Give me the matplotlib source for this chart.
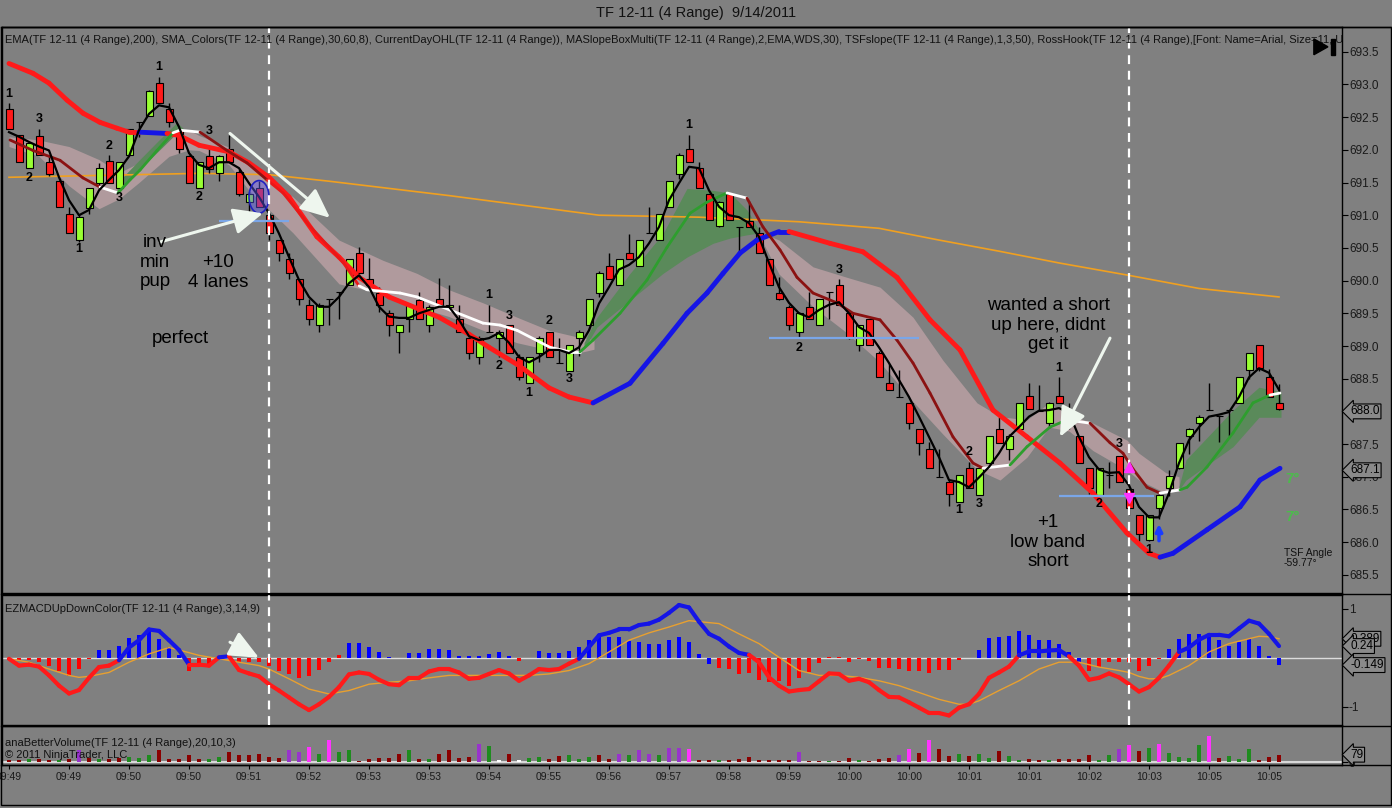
import numpy as np
import matplotlib
matplotlib.use('Agg')
import matplotlib.pyplot as plt
import matplotlib.transforms as mtrans
from matplotlib.collections import LineCollection
from matplotlib.patches import Ellipse, Rectangle, Polygon
from matplotlib.lines import Line2D

plt.rcParams['font.family'] = ['Liberation Sans', 'DejaVu Sans']

# ---- range bars (TF 12-11, 4 range) ----
opens = [692.62,692.22,691.72,692.21,691.81,691.52,691.02,690.62,691.11,691.50,
         691.83,691.41,691.92,692.42,692.52,693.02,692.62,692.30,691.90,691.41,
         691.90,691.64,692.02,691.66,691.20,691.42,691.00,690.62,690.33,690.02,
         689.63,689.32,689.72,689.82,689.93,690.42,690.02,689.81,689.50,689.22,
         689.42,689.70,689.32,689.72,689.60,689.42,689.12,688.83,689.22,689.12,
         689.32,688.83,688.43,688.90,689.22,688.74,688.62,689.12,689.32,689.81,
         690.22,689.93,690.42,690.22,690.73,690.62,691.12,691.63,692.02,691.72,
         691.32,690.83,691.32,690.82,690.91,690.73,690.33,689.81,689.60,689.22,
         689.60,689.32,689.82,689.93,689.50,689.02,689.42,688.90,688.43,688.22,
         688.13,687.73,687.42,687.00,686.92,686.62,687.13,686.72,687.21,687.73,
         687.42,687.73,688.23,688.00,687.82,688.23,688.03,687.62,687.13,686.72,
         687.03,687.32,686.82,686.42,686.03,686.52,686.83,687.13,687.62,687.82,
         688.02,687.93,688.02,688.13,688.63,689.02,688.52,688.13]
closes = [692.32,691.81,692.10,691.92,691.63,691.12,690.73,690.97,691.42,691.72,
          691.50,691.81,692.32,692.42,692.90,692.72,692.42,692.02,691.50,691.81,
          691.70,691.90,691.81,691.32,691.32,691.12,690.73,690.42,690.12,689.72,
          689.42,689.63,689.72,689.82,690.33,690.12,689.93,689.63,689.32,689.32,
          689.63,689.42,689.60,689.63,689.62,689.22,688.90,689.12,689.22,689.22,
          688.90,688.52,688.83,689.12,688.83,688.74,689.02,689.22,689.72,690.12,
          690.02,690.33,690.33,690.62,690.73,691.02,691.52,691.92,691.81,691.42,
          690.93,691.20,690.93,690.82,690.82,690.42,689.93,689.72,689.32,689.50,
          689.42,689.72,689.82,689.63,689.12,689.32,689.02,688.52,688.33,688.22,
          687.82,687.52,687.13,687.00,686.73,687.03,686.83,687.13,687.62,687.52,
          687.62,688.13,688.03,688.00,688.13,688.13,687.82,687.21,686.83,687.13,
          687.03,686.92,686.52,686.12,686.42,686.72,687.01,687.52,687.73,687.92,
          688.02,687.93,688.02,688.52,688.90,688.66,688.22,688.03]
highs = [692.72,692.22,692.12,692.32,691.90,691.52,691.12,691.02,691.42,691.80,
         691.92,691.81,692.32,692.42,692.92,693.12,692.72,692.32,691.92,691.81,
         692.05,691.92,692.22,691.70,691.35,691.52,691.02,690.62,690.42,690.02,
         689.72,689.65,689.72,689.82,690.33,690.51,690.35,689.90,689.55,689.32,
         689.65,689.82,689.62,690.04,689.93,689.62,689.15,689.15,689.62,689.25,
         689.32,688.88,688.83,689.15,689.22,689.12,689.02,689.25,689.72,690.15,
         690.42,690.33,690.72,690.62,691.12,691.02,691.52,691.95,692.22,691.82,
         691.32,691.22,691.32,690.82,691.22,690.82,690.33,690.05,689.62,689.52,
         689.82,689.72,689.82,690.02,689.50,689.32,689.42,688.92,688.73,688.63,
         688.13,687.73,687.53,687.42,686.95,687.03,687.23,687.13,687.62,687.92,
         687.65,688.13,688.43,688.40,688.15,688.53,688.13,687.62,687.13,687.13,
         687.23,687.32,686.82,686.42,686.42,686.75,687.10,687.52,687.75,687.95,
         688.43,687.93,688.02,688.52,688.90,689.02,688.65,688.42]
lows = [692.32,691.81,691.72,691.92,691.60,691.12,690.73,690.59,691.02,691.40,
        691.50,691.41,691.92,692.20,692.52,692.72,692.35,691.95,691.50,691.41,
        691.65,691.52,691.81,691.30,691.05,691.12,690.62,690.30,690.02,689.62,
        689.32,689.22,689.32,689.42,689.93,690.10,689.93,689.52,689.15,688.90,
        689.22,689.42,689.22,689.63,689.55,689.22,688.80,688.72,689.22,688.83,
        688.90,688.48,688.43,688.75,688.83,688.74,688.62,688.85,689.32,689.75,
        690.02,689.93,690.33,690.22,690.73,690.62,691.12,691.55,691.81,691.42,
        690.93,690.82,690.93,690.42,690.82,690.42,689.93,689.70,689.25,689.12,
        689.42,689.32,689.42,689.62,689.10,688.92,689.02,688.52,688.33,688.22,
        687.73,687.33,687.13,687.00,686.55,686.62,686.83,686.72,687.21,687.52,
        687.25,687.73,688.03,688.00,687.75,688.13,687.73,687.21,686.73,686.72,
        686.83,686.92,686.42,686.02,686.02,686.35,686.70,687.12,687.35,687.55,
        688.02,687.53,687.63,688.13,688.50,688.62,688.22,688.02]

# fast black line following price
fast_line = [692.27,692.20,692.12,692.05,691.99,691.58,691.23,691.00,691.08,691.38,
             691.54,691.69,691.90,692.30,692.55,692.68,692.65,692.35,691.95,691.77,
             691.72,691.81,691.81,691.72,691.49,691.28,691.03,690.72,690.36,690.01,
             689.75,689.60,689.60,689.75,689.96,690.08,689.90,689.60,689.45,689.43,
             689.43,689.50,689.55,689.60,689.60,689.40,689.15,689.09,689.12,689.20,
             689.05,688.83,688.75,688.83,688.94,688.94,688.89,688.98,689.24,689.65,
             689.90,690.17,690.24,690.36,690.57,690.82,691.23,691.49,691.74,691.72,
             691.38,691.13,691.00,690.97,690.88,690.67,690.27,689.90,689.66,689.50,
             689.44,689.55,689.63,689.67,689.50,689.29,689.20,688.98,688.74,688.48,
             688.22,687.92,687.61,687.30,686.95,686.92,686.84,686.99,687.15,687.36,
             687.61,687.76,687.92,688.01,688.02,688.05,687.98,687.61,687.30,687.11,
             687.06,687.07,686.87,686.54,686.38,686.38,686.75,687.21,687.56,687.76,
             687.92,687.95,687.99,688.22,688.52,688.66,688.59,688.33]

# EMA 200 (orange)
ema_x = [0, 19, 26, 32, 44, 59, 69, 79, 87, 93, 99, 105, 112, 119, 127]
ema_p = [691.58, 691.64, 691.62, 691.52, 691.30, 691.00, 690.97, 690.90, 690.80,
         690.62, 690.45, 690.27, 690.08, 689.88, 689.75]

# thick band line (red falling / blue rising)
band_x = [0, 2.4, 4, 5.8, 7.4, 9.1, 10.8, 12, 13, 15.8, 17, 19, 22, 24, 26, 28, 30.8,
          33, 35, 38, 43, 46, 48, 51, 54, 56, 58.4, 62.1, 65.4, 67.8, 69.8, 71.4, 73.1,
          74.8, 77, 78, 82.1, 85.4, 88.8, 92.1, 95.1, 98.4, 101.8, 105.1, 108.4, 111.8,
          114, 115.1, 116.4, 119.8, 123.1, 125.1, 127.1]
band_p = [693.32, 693.17, 693.02, 692.76, 692.56, 692.42, 692.33, 692.27, 692.27, 692.25,
          692.22, 692.07, 691.97, 691.80, 691.58, 691.28, 690.67, 690.36, 690.05, 689.75,
          689.44, 689.18, 688.98, 688.70, 688.36, 688.22, 688.13, 688.43, 689.04, 689.50,
          689.81, 690.11, 690.42, 690.62, 690.75, 690.75, 690.57, 690.44, 690.05, 689.40,
          688.94, 688.02, 687.61, 687.21, 686.75, 686.14, 685.83, 685.77, 685.83, 686.19,
          686.54, 686.95, 687.13]
band_c = "r" * 8 + "b" + "r" * 17 + "b" * 9 + "r" * 12 + "b" * 5

# SMA_Colors line (m = maroon, w = white, g = green, r = red)
sma_x = [0.1, 2.4, 5.1, 7.4, 9.1, 10.9, 12.1, 13.1, 14.8, 16.4, 17.1, 19.1, 21.8, 23.8,
         25.8, 27.4, 30.0, 33.4, 35.0, 35.8, 39.1, 40.8, 44.1, 47.4, 49.1, 50.8, 54.1,
         56.1, 57.1, 58.4, 61.1, 63.8, 65.8, 68.1, 69.8, 71.8, 73.8, 75.4, 77.1, 78.8,
         80.4, 82.8, 84.4, 87.1, 88.8, 90.4, 92.1, 94.4, 96.4, 97.4, 100.1, 101.8, 104.1,
         105.8, 108.1, 110.1, 111.4, 112.4, 113.8, 115.1, 117.1, 117.8, 119.8, 122.4,
         124.4, 126.1, 127.1]
sma_p = [692.15, 691.99, 691.84, 691.57, 691.43, 691.34, 691.54, 691.69, 691.99, 692.26,
         692.30, 692.27, 691.99, 691.80, 691.54, 691.34, 690.85, 690.28, 689.92, 689.86,
         689.81, 689.75, 689.55, 689.35, 689.32, 689.24, 688.98, 688.91, 688.91, 689.09,
         689.50, 690.01, 690.51, 691.03, 691.20, 691.34, 691.26, 690.82, 690.47, 690.05,
         689.81, 689.66, 689.50, 689.40, 689.09, 688.74, 688.28, 687.61, 687.21, 687.13,
         687.18, 687.46, 687.76, 687.87, 687.82, 687.52, 687.36, 687.12, 686.84, 686.75,
         686.80, 686.84, 687.15, 687.67, 688.13, 688.25, 688.28]
sma_c = "mmmmwggggwwmmmrrrrwwwwwwwwwwgggggggwmmmmmmmmmmmmmwgggwmmmmmwgggggw"

# shaded bands (pink = falling, green = rising)
pink1_x = [0, 3, 6, 9, 11, 13, 16, 18, 19, 22, 24, 28.4, 33, 37.4, 40.8, 44, 47.4, 50.8, 54, 56.8, 58.5]
pink1_hi = [692.20, 692.15, 692.05, 691.85, 691.65, 691.80, 692.20, 692.30, 692.22, 692.04, 691.80,
            691.28, 690.62, 690.31, 690.11, 689.86, 689.66, 689.44, 689.24, 689.14, 689.10]
pink1_lo = [692.05, 691.90, 691.45, 691.10, 691.25, 691.50, 691.90, 692.00, 691.99, 691.77, 691.38,
            690.73, 689.95, 689.80, 689.60, 689.45, 689.24, 689.05, 688.94, 688.89, 688.95]
green1_x = [10.8, 13, 15, 16.8, 17.6]
green1_hi = [691.49, 691.84, 692.15, 692.42, 692.30]
green1_lo = [691.35, 691.69, 691.99, 692.26, 692.30]
green2_x = [57.5, 58.8, 62.1, 65.4, 67.8, 70.4, 72.1, 73.8, 75.1]
green2_hi = [689.05, 689.44, 690.11, 690.72, 691.41, 691.38, 691.34, 691.08, 690.75]
green2_lo = [688.95, 689.29, 689.70, 690.11, 690.36, 690.57, 690.65, 690.70, 690.73]
pink2_x = [75, 77, 80.4, 83.8, 87.1, 90.4, 93.4, 96.8, 99.1, 101.8, 104, 106, 108.4, 111.8, 113, 115.7, 117]
pink2_hi = [690.75, 690.62, 690.21, 690.05, 689.90, 689.44, 688.78, 688.13, 687.92, 687.87, 688.13,
            687.95, 687.82, 687.56, 687.36, 687.06, 687.00]
pink2_lo = [690.70, 690.10, 689.60, 689.20, 688.75, 688.15, 687.65, 687.11, 686.95, 687.30, 687.76,
            687.70, 687.40, 687.10, 686.95, 686.75, 686.80]
green3_x = [117, 117.7, 122.4, 125, 127.2]
green3_hi = [686.85, 687.26, 688.02, 688.37, 688.30]
green3_lo = [686.80, 686.95, 687.46, 687.91, 687.91]

# swing labels (RossHook)
swing_x = [0, 3, 2, 7, 10, 11, 15, 20, 19, 48, 50, 54, 49, 52, 56, 68, 83, 79, 96, 95, 97, 105, 111, 109, 114]
swing_p = [692.86, 692.47, 691.57, 690.48, 692.06, 691.26, 693.27, 692.29, 691.28, 689.78, 689.46,
           689.38, 688.69, 688.28, 688.50, 692.38, 690.16, 688.97, 687.38, 686.49, 686.58, 688.66,
           687.50, 686.58, 685.88]
swing_t = ['1', '3', '2', '1', '2', '3', '1', '3', '2', '1', '3', '2', '2', '1', '3', '1', '3', '2',
           '2', '1', '3', '1', '3', '2', '1']

# ---- EZMACD ----
macd_hist = [-0.05,-0.05,-0.05,-0.09,-0.16,-0.26,-0.38,-0.23,-0.02,0.16,
             0.16,0.25,0.41,0.47,0.56,0.39,0.22,0.05,-0.26,-0.16,
             -0.14,0.03,0.05,-0.09,-0.09,-0.09,-0.16,-0.26,-0.33,-0.41,
             -0.38,-0.25,-0.09,0.06,0.30,0.30,0.23,0.11,0.01,-0.01,
             0.10,0.10,0.17,0.17,0.15,0.03,0.03,0.03,0.08,0.12,
             0.04,-0.07,-0.01,0.14,0.10,0.10,0.14,0.22,0.37,0.43,
             0.43,0.43,0.34,0.32,0.29,0.29,0.36,0.43,0.32,0.07,
             -0.12,-0.20,-0.22,-0.33,-0.32,-0.45,-0.50,-0.47,-0.57,-0.41,
             -0.30,-0.11,0.01,0.01,-0.09,-0.02,-0.07,-0.20,-0.20,-0.22,
             -0.26,-0.27,-0.32,-0.25,-0.25,-0.04,-0.01,0.16,0.41,0.43,
             0.44,0.54,0.47,0.37,0.36,0.29,0.12,-0.08,-0.26,-0.18,
             -0.09,-0.09,-0.09,-0.28,-0.16,-0.02,0.19,0.39,0.49,0.49,
             0.49,0.36,0.25,0.32,0.39,0.25,0.03,-0.149]
hist_c = ("r" * 9 + "b" * 9 + "r" * 3 + "b" * 2 + "r" * 11 + "b" * 5 + "r" + "b" * 11
          + "r" * 2 + "b" * 18 + "r" * 26 + "b" * 11 + "r" * 8 + "b" * 12)
macd_line = [-0.02,-0.16,-0.14,-0.18,-0.36,-0.57,-0.73,-0.66,-0.41,-0.19,
             -0.16,-0.05,0.21,0.36,0.58,0.55,0.36,0.16,-0.14,-0.14,
             -0.16,0.01,0.03,-0.25,-0.32,-0.38,-0.54,-0.67,-0.81,-0.95,
             -1.07,-0.95,-0.80,-0.60,-0.34,-0.30,-0.33,-0.45,-0.54,-0.56,
             -0.41,-0.41,-0.28,-0.23,-0.23,-0.30,-0.43,-0.41,-0.33,-0.25,
             -0.32,-0.47,-0.36,-0.23,-0.25,-0.23,-0.12,-0.02,0.22,0.46,
             0.51,0.58,0.58,0.67,0.70,0.78,0.92,1.08,1.03,0.74,
             0.49,0.39,0.23,0.10,0.06,-0.09,-0.40,-0.57,-0.69,-0.66,
             -0.64,-0.48,-0.32,-0.33,-0.47,-0.43,-0.50,-0.66,-0.80,-0.81,
             -0.91,-1.02,-1.13,-1.13,-1.18,-1.02,-0.95,-0.74,-0.41,-0.30,
             -0.18,0.05,0.13,0.13,0.15,0.16,0.03,-0.16,-0.45,-0.41,
             -0.32,-0.40,-0.54,-0.69,-0.60,-0.41,-0.16,0.12,0.21,0.37,
             0.47,0.47,0.44,0.60,0.76,0.70,0.49,0.24]
sig_x = [0,2,4,6,7,8,10,12,14,16,17,19,21,23,25,26,28,30,32,34,36,38,40,42,44,46,48,50,52,54,
         56,58,60,62,64,66,68,71,73,75,77,79,81,83,85,87,89,91,93,95,96,97,99,101,103,105,107,
         109,111,112,113,114,115,116,118,120,122,124,125,126,127]
sig_v = [-0.02,-0.09,-0.23,-0.36,-0.40,-0.38,-0.30,-0.09,0.08,0.21,0.16,0.05,-0.02,-0.09,-0.16,
         -0.23,-0.43,-0.64,-0.74,-0.67,-0.54,-0.50,-0.47,-0.41,-0.36,-0.36,-0.36,-0.36,-0.36,-0.33,
         -0.26,-0.12,0.12,0.36,0.51,0.63,0.76,0.70,0.49,0.29,0.01,-0.26,-0.36,-0.36,-0.40,-0.47,
         -0.57,-0.71,-0.85,-0.95,-0.95,-0.88,-0.67,-0.47,-0.23,-0.09,-0.09,-0.19,-0.26,-0.30,-0.38,
         -0.43,-0.43,-0.36,-0.16,0.12,0.29,0.39,0.44,0.43,0.39]

# ---- anaBetterVolume ----
volume = [25,18,29,36,25,18,29,126,40,29,
          36,47,54,47,72,126,29,29,72,29,
          29,54,108,72,72,90,54,47,126,108,
          162,90,241,108,133,7,36,43,43,90,
          133,29,36,90,126,47,54,198,169,18,
          90,18,43,54,36,65,79,36,54,72,
          29,90,72,126,90,79,151,155,144,18,
          18,18,25,29,54,18,18,18,18,104,
          7,7,7,7,47,18,7,29,47,79,
          137,101,241,144,65,90,65,86,47,115,
          61,25,32,25,18,36,29,36,79,18,
          79,137,187,115,155,198,101,54,47,180,
          277,47,68,29,137,18,50,79]
vol_c = ("rrgrrgr" "p" "rgrr" "ggg" "rrrrr" "gg" "rrrrrr" "pp" "m" "g" "m" "gg" "rrrrr" "g" "r"
         "g" "rrrr" "p" "g" "w" "r" "w" "gg" "rr" "ggg" "rr" "p" "g" "pp" "g" "pp" "m" "rr" "g"
         "rrrrrrr" "p" "rr" "g" "rr" "g" "rrr" "p" "m" "r" "m" "rr" "g" "r" "gg" "r" "gg" "rr" "g"
         "rrrr" "gg" "p" "m" "r" "g" "m" "gggg" "m" "r" "ggg" "rrr")

time_labels = ["09:49", "09:49", "09:50", "09:50", "09:51", "09:52", "09:53", "09:53", "09:54",
               "09:55", "09:56", "09:57", "09:58", "09:59", "10:00", "10:00", "10:01", "10:01",
               "10:02", "10:03", "10:05", "10:05"]

GREY = '#808080'
W, H = 1392, 808
fig = plt.figure(figsize=(W / 100, H / 100), dpi=100, facecolor=GREY)


def box(top, bot, left=2, right=1342):
    return [left / W, 1 - bot / H, (right - left) / W, (bot - top) / H]


ax = fig.add_axes(box(27, 593))
axm = fig.add_axes(box(595, 725))
axv = fig.add_axes(box(726, 765))
XL = (-0.7, 133.3)
for a in (ax, axm, axv):
    a.set_facecolor(GREY)
    a.set_xlim(*XL)
    for s in a.spines.values():
        s.set_color('black')
        s.set_linewidth(1)
    a.yaxis.tick_right()
    a.tick_params(axis='y', direction='out', length=4, labelsize=8.5, pad=1,
                  colors='black', labelcolor='#1a1a1a')
ax.tick_params(axis='x', bottom=False, labelbottom=False)
axm.tick_params(axis='x', bottom=False, labelbottom=False)

ax.set_ylim(685.223, 693.878)
axm.set_ylim(-1.375, 1.285)
axv.set_ylim(-32, 388)


def seg_line(a, xs, ys, codes, cmap, lw, z):
    pts = np.column_stack([xs, ys])
    segs = np.stack([pts[:-1], pts[1:]], axis=1)
    lc = LineCollection(segs, colors=[cmap[k] for k in codes], linewidths=lw,
                        zorder=z, capstyle='round', joinstyle='round')
    a.add_collection(lc)


# ---------------- main price panel ----------------
PINK = '#b09a9d'
GREENB = '#5a8a5a'
for bx, bh, bl, col in [(pink1_x, pink1_hi, pink1_lo, PINK), (green1_x, green1_hi, green1_lo, GREENB),
                        (green2_x, green2_hi, green2_lo, GREENB), (pink2_x, pink2_hi, pink2_lo, PINK),
                        (green3_x, green3_hi, green3_lo, GREENB)]:
    ax.fill_between(bx, bl, bh, color=col, lw=0, zorder=1)

ax.plot(ema_x, ema_p, color='#f0a020', lw=1.2, zorder=2)

xb = np.arange(len(opens))
o = np.array(opens)
c = np.array(closes)
ax.vlines(xb, lows, highs, color='black', lw=1, zorder=3)
body = np.where(c >= o, '#99ff33', '#ff1a1a')
ax.bar(xb, c - o, bottom=o, width=0.7, color=body, edgecolor='black', linewidth=0.8, zorder=3.5)

seg_line(ax, band_x, band_p, band_c, {'r': '#ff1a1a', 'b': '#1515e6'}, 3.5, 4)
seg_line(ax, sma_x, sma_p, sma_c, {'m': '#8b1212', 'w': '#ffffff', 'g': '#2e9e2e', 'r': '#e81818'}, 2, 4.2)
ax.plot(xb, fast_line, color='black', lw=1.6, zorder=4.5)

ax.hlines([690.91, 689.12, 686.70], [21, 76, 105], [28, 91, 114.5], color='#7aa6e8', lw=1.6, zorder=4.6)

ax.add_patch(Ellipse((25, 691.28), 2.0, 0.5, fc=(0.35, 0.35, 0.95, 0.45), ec='#2020c0', lw=1.2, zorder=5))

for a in (ax, axm):
    for bx in (26, 112):
        a.axvline(bx, color='white', lw=1.6, ls=(0, (4, 3)), zorder=6)

arrow = dict(arrowstyle='-|>,head_length=0.9,head_width=0.4', color='#eef6ee', lw=2.2,
             mutation_scale=20, shrinkA=0, shrinkB=0)
ax.annotate('', xy=(32.1, 690.96), xytext=(22.1, 692.25), arrowprops=arrow, zorder=7)
ax.annotate('', xy=(25.4, 691.03), xytext=(15.1, 690.59), arrowprops=arrow, zorder=7)
ax.annotate('', xy=(105.1, 687.61), xytext=(110.1, 689.12), arrowprops=arrow, zorder=7)
axm.annotate('', xy=(25, 0.0), xytext=(22.1, 0.32), arrowprops=arrow, zorder=7)

ax.plot([112], [687.15], marker='^', color='#ff33ff', ms=7, zorder=7)
ax.plot([112], [686.68], marker='v', color='#ff33ff', ms=7, zorder=7)
ax.annotate('', xy=(115, 686.32), xytext=(115, 685.98),
            arrowprops=dict(arrowstyle='-|>', color='#1a3cff', lw=2.5, mutation_scale=10), zorder=7)

for sx, sp, st in zip(swing_x, swing_p, swing_t):
    ax.text(sx, sp, st, ha='center', va='center', fontsize=9, fontweight='bold', color='black', zorder=8)

note = dict(ha='center', va='center', fontsize=13.5, color='black', linespacing=1.2, zorder=8)
ax.text(14.6, 690.28, 'inv\nmin\npup', **note)
ax.text(20.9, 690.12, '+10\n4 lanes', **note)
ax.text(17.1, 689.12, 'perfect', **note)
ax.text(103.9, 689.32, 'wanted a short\nup here, didnt\nget it', **note)
ax.text(103.9, 686.0, '+1\nlow band\nshort', **note)
ax.text(127.5, 685.76, 'TSF Angle\n-59.77°', ha='left', va='center', fontsize=7.5, color='#111111',
        linespacing=1.0, zorder=8)
for yy in (686.96, 686.38):
    ax.text(127.6, yy, '7°', ha='left', va='center', fontsize=11, fontweight='bold',
            color='#4cbb4c', zorder=8)

ax.text(0.002, 0.977, 'EMA(TF 12-11 (4 Range),200), SMA_Colors(TF 12-11 (4 Range),30,60,8), '
        'CurrentDayOHL(TF 12-11 (4 Range)), MASlopeBoxMulti(TF 12-11 (4 Range),2,EMA,WDS,30), '
        'TSFslope(TF 12-11 (4 Range),1,3,50), RossHook(TF 12-11 (4 Range),[Font: Name=Arial, Size=11, Unit',
        transform=ax.transAxes, ha='left', va='center', fontsize=8, color='#111111', clip_on=True, zorder=9)

ax.add_patch(Polygon([[0.979, 0.979], [0.979, 0.951], [0.9895, 0.965]], closed=True,
                     transform=ax.transAxes, color='black', zorder=9))
ax.add_patch(Rectangle((0.9915, 0.951), 0.003, 0.028, transform=ax.transAxes, color='black', zorder=9))

ax.set_yticks(np.arange(685.5, 693.51, 0.5))
ax.set_yticklabels(['%.1f' % v for v in np.arange(685.5, 693.51, 0.5)])


def flag(a, y, s):
    tr = mtrans.blended_transform_factory(a.transAxes, a.transData)
    a.text(1.006, y, s, transform=tr, ha='left', va='center', fontsize=8.5, color='black',
           bbox=dict(boxstyle='larrow,pad=0.12', fc='#8a8a8a', ec='black', lw=0.8),
           clip_on=False, zorder=10)


flag(ax, 688.0, '688.0')
flag(ax, 687.1, '687.1')

# ---------------- MACD panel ----------------
axm.axhline(0, color='#dcdcdc', lw=1, zorder=1)
axm.bar(xb, macd_hist, width=0.32, color=['#0000ff' if k == 'b' else '#ff0000' for k in hist_c], zorder=2)
axm.plot(sig_x, sig_v, color='#e8a030', lw=1, zorder=3)
mv = np.array(macd_line)
mcodes = ['b' if (mv[i] + mv[i + 1]) / 2 >= 0 else 'r' for i in range(len(mv) - 1)]
seg_line(axm, xb, mv, mcodes, {'r': '#ff1a1a', 'b': '#1515e6'}, 3, 4)
axm.set_yticks([-1, 1])
axm.set_yticklabels(['-1', '1'])
axm.text(0.002, 0.891, 'EZMACDUpDownColor(TF 12-11 (4 Range),3,14,9)', transform=axm.transAxes,
         ha='left', va='center', fontsize=8, color='#111111')
flag(axm, 0.389, '0.389')
flag(axm, 0.24, '0.24')
flag(axm, -0.149, '-0.149')

# ---------------- volume panel ----------------
vcols = {'r': '#8b0000', 'g': '#1e8c1e', 'p': '#9933cc', 'm': '#ff33ff', 'w': '#ffffff'}
axv.axhline(0, color='#d8d8d8', lw=1.5, zorder=1)
axv.bar(xb, volume, width=0.32, color=[vcols[k] for k in vol_c], zorder=2)
axv.set_yticks([0])
axv.set_yticklabels(['0'])
axv.text(0.002, 0.564, 'anaBetterVolume(TF 12-11 (4 Range),20,10,3)', transform=axv.transAxes,
         ha='left', va='center', fontsize=8, color='#111111')
axv.text(0.002, 0.256, '© 2011 NinjaTrader, LLC', transform=axv.transAxes,
         ha='left', va='center', fontsize=8, color='#111111')
flag(axv, 79, '79')
axv.set_xticks(np.arange(0, 127, 6))
axv.set_xticklabels(time_labels)
axv.tick_params(axis='x', direction='out', length=3, labelsize=7.5, pad=2, colors='black', labelcolor='#1a1a1a')

# frame and separators across the price scale
for yy in (27, 594, 725.5, 765):
    fig.add_artist(Line2D([1 / W, 1391 / W], [1 - yy / H, 1 - yy / H], color='black', lw=1))
fig.add_artist(Rectangle((1 / W, 1 - 805 / H), 1390 / W, 778 / H, fill=False, ec='black', lw=1))

fig.text(0.5, 1 - 13 / H, 'TF 12-11 (4 Range)  9/14/2011', ha='center', va='center',
         fontsize=10.5, color='#111111')

fig.savefig('out.png', dpi=100, facecolor=GREY)
